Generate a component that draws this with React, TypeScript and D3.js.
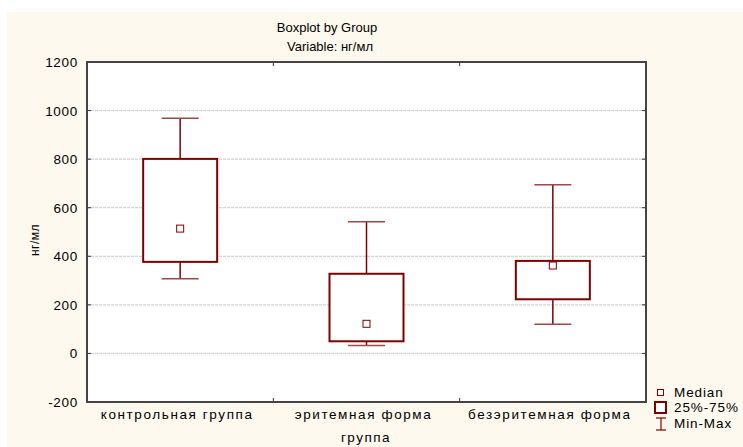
import React from "react";
import * as d3 from "d3";

const categories = ["контрольная группа", "эритемная форма", "безэритемная форма"];
const minValues = [308, 33, 120];
const q1Values = [377, 50, 223];
const medianValues = [514, 122, 362];
const q3Values = [801, 328, 381];
const maxValues = [968, 542, 695];
const yTicks = [-200, 0, 200, 400, 600, 800, 1000, 1200];

const W = 743;
const H = 447;
const M = { left: 87, right: 646, top: 62, bottom: 402 };
const RED = "#800000";
const FONT = "Liberation Sans, Arial, sans-serif";

export default function App() {
  const x = d3.scaleBand<string>().domain(categories).range([M.left, M.right]).paddingInner(0).paddingOuter(0);
  const y = d3.scaleLinear().domain([-200, 1200]).range([M.bottom, M.top]);
  const bw = 74;
  const cap = 37;
  const data = categories.map((c, i) => ({
    c,
    min: minValues[i],
    q1: q1Values[i],
    med: medianValues[i],
    q3: q3Values[i],
    max: maxValues[i],
  }));
  return (
    <svg width={W} height={H} style={{ position: "absolute", left: 0, top: 0, display: "block" }}>
      <rect x={0} y={0} width={W} height={H} fill="#ffffff" />
      <rect x={7} y={12} width={W - 7} height={H - 12} fill="#fdf9ee" />
      <rect x={M.left} y={M.top} width={M.right - M.left} height={M.bottom - M.top} fill="#ffffff" />
      {yTicks.slice(1, -1).map((t) => (
        <line key={t} x1={M.left} x2={M.right} y1={y(t)} y2={y(t)} stroke="#c8c8c8" strokeWidth={1} strokeDasharray="3,1" />
      ))}
      {yTicks.map((t) => (
        <g key={"t" + t}>
          <line x1={M.left} x2={M.left + 4} y1={y(t)} y2={y(t)} stroke="#333" strokeWidth={1} />
          <line x1={M.right} x2={M.right - 4} y1={y(t)} y2={y(t)} stroke="#333" strokeWidth={1} />
          <text x={M.left - 9} y={y(t) + 5} textAnchor="end" fontFamily={FONT} fontSize={13.5} letterSpacing={0.7} fill="#000">
            {t}
          </text>
        </g>
      ))}
      {[1, 2].map((k) => {
        const xx = M.left + ((M.right - M.left) * k) / 3;
        return (
          <g key={"xt" + k}>
            <line x1={xx} x2={xx} y1={M.top} y2={M.top + 4} stroke="#333" />
            <line x1={xx} x2={xx} y1={M.bottom} y2={M.bottom - 4} stroke="#333" />
          </g>
        );
      })}
      {data.map((d) => {
        const cx = (x(d.c) as number) + x.bandwidth() / 2;
        return (
          <g key={d.c}>
            <line x1={cx} x2={cx} y1={y(d.max)} y2={y(d.q3)} stroke={RED} strokeWidth={1.5} />
            <line x1={cx} x2={cx} y1={y(d.q1)} y2={y(d.min)} stroke={RED} strokeWidth={1.5} />
            <line x1={cx - cap / 2} x2={cx + cap / 2} y1={y(d.max)} y2={y(d.max)} stroke="#a04848" strokeWidth={1.5} />
            <line x1={cx - cap / 2} x2={cx + cap / 2} y1={y(d.min)} y2={y(d.min)} stroke="#a04848" strokeWidth={1.5} />
            <rect x={cx - bw / 2} y={y(d.q3)} width={bw} height={y(d.q1) - y(d.q3)} fill="#ffffff" stroke={RED} strokeWidth={2} />
            <rect x={cx - 3.5} y={y(d.med) - 3.5} width={7} height={7} fill="#ffffff" stroke={RED} strokeWidth={1} />
            <text x={cx - 3} y={419} textAnchor="middle" fontFamily={FONT} fontSize={13.5} letterSpacing={1.6} fill="#000">
              {d.c}
            </text>
          </g>
        );
      })}
      <rect x={M.left} y={M.top} width={M.right - M.left} height={M.bottom - M.top} fill="none" stroke="#444" strokeWidth={2} />
      <text x={327} y={32} textAnchor="middle" fontFamily={FONT} fontSize={13}>Boxplot by Group</text>
      <text x={330} y={51} textAnchor="middle" fontFamily={FONT} fontSize={13}>Variable: нг/мл</text>
      <text x={366} y={442} textAnchor="middle" fontFamily={FONT} fontSize={13.5} letterSpacing={1.5}>группа</text>
      <text transform={`translate(39,240) rotate(-90)`} textAnchor="middle" fontFamily={FONT} fontSize={12} letterSpacing={0.5}>нг/мл</text>
      <rect x={657.5} y={389.5} width={6} height={6} fill="#fff" stroke={RED} strokeWidth={1} />
      <text x={674} y={397} fontFamily={FONT} fontSize={13.5} letterSpacing={0.9}>Median</text>
      <rect x={655} y={402} width={11} height={11} fill="#fff" stroke={RED} strokeWidth={2} />
      <text x={674} y={412} fontFamily={FONT} fontSize={13.5} letterSpacing={0.9}>25%-75%</text>
      <line x1={656} x2={666} y1={418} y2={418} stroke={RED} strokeWidth={1.2} />
      <line x1={656} x2={666} y1={430} y2={430} stroke={RED} strokeWidth={1.2} />
      <line x1={661} x2={661} y1={418} y2={430} stroke={RED} strokeWidth={1.2} />
      <text x={674} y={428} fontFamily={FONT} fontSize={13.5} letterSpacing={0.9}>Min-Max</text>
    </svg>
  );
}
